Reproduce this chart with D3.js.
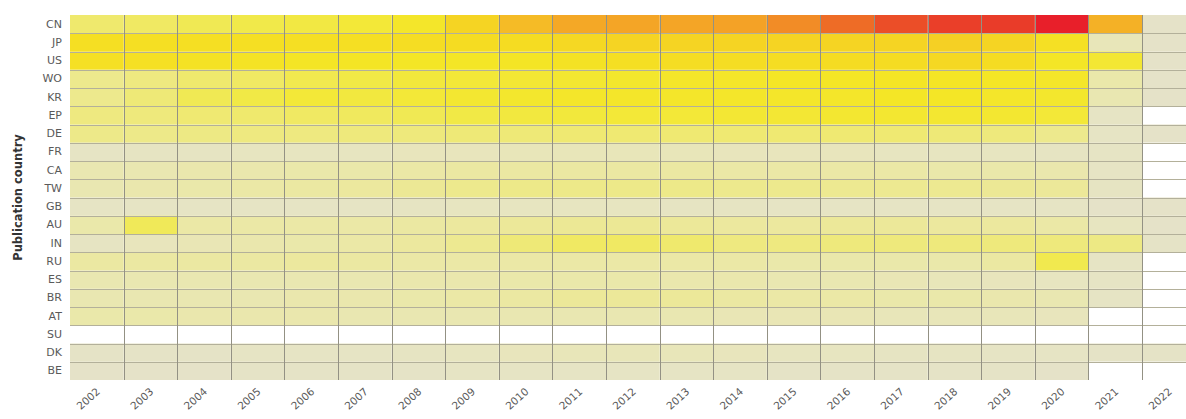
<!DOCTYPE html>
<html>
<head>
<meta charset="utf-8">
<script src="https://cdn.jsdelivr.net/npm/d3@7"></script>
<style>
  html, body { margin: 0; padding: 0; background: #fff; }
  svg { display: block; }
  text { font-family: "DejaVu Sans", Verdana, sans-serif; }
</style>
</head>
<body>
<svg id="chart" width="1186" height="419"></svg>
<script>
// ---- data (intensity index 0–100, null = no data) ----
const years = ["2002","2003","2004","2005","2006","2007","2008","2009","2010","2011","2012","2013","2014","2015","2016","2017","2018","2019","2020","2021","2022"];
const countries = ["CN","JP","US","WO","KR","EP","DE","FR","CA","TW","GB","AU","IN","RU","ES","BR","AT","SU","DK","BE"];

const CN = [28, 30, 33, 35, 37, 40, 44, 54, 60, 64, 65, 65, 66, 73, 80, 87, 91, 92, 100, 62, 4];
const JP = [50, 50, 50, 50, 50, 50, 51, 52, 52, 53, 54, 54, 54, 54, 54, 54, 55, 54, 49, 10, 4];
const US = [49, 49, 48, 47, 46, 46, 45, 45, 46, 48, 50, 51, 51, 51, 52, 52, 53, 52, 45, 41, 4];
const WO = [21, 24, 28, 30, 34, 36, 39, 40, 41, 42, 43, 44, 44, 45, 45, 46, 46, 45, 44, 14, 4];
const KR = [21, 26, 33, 36, 40, 38, 40, 42, 43, 44, 44, 44, 44, 44, 44, 45, 45, 44, 43, 12, 4];
const EP = [24, 25, 27, 28, 30, 31, 33, 36, 38, 39, 40, 40, 41, 41, 42, 42, 42, 42, 40, 6, null];
const DE = [22, 22, 23, 24, 24, 25, 25, 26, 26, 27, 27, 27, 27, 27, 27, 27, 26, 25, 21, 6, 4];
const FR = [6, 7, 7, 8, 8, 8, 9, 9, 10, 10, 10, 10, 9, 9, 9, 8, 8, 8, 7, 6, null];
const CA = [12, 12, 13, 13, 14, 14, 15, 16, 16, 16, 16, 16, 15, 15, 15, 15, 14, 14, 13, 6, null];
const TW = [12, 13, 14, 15, 16, 17, 19, 21, 22, 22, 22, 22, 21, 21, 20, 20, 20, 19, 18, 7, null];
const GB = [6, 6, 6, 6, 6, 6, 7, 8, 8, 8, 8, 7, 7, 6, 6, 6, 6, 6, 6, 4, 4];
const AU = [14, 32, 15, 15, 15, 15, 16, 17, 18, 19, 19, 18, 17, 17, 18, 18, 17, 17, 15, 8, 4];
const IN = [7, 9, 11, 13, 14, 15, 17, 20, 26, 30, 30, 28, 24, 24, 25, 25, 25, 25, 25, 23, 5];
const RU = [16, 16, 16, 16, 17, 16, 15, 15, 15, 15, 15, 15, 15, 14, 14, 14, 14, 16, 34, 6, null];
const ES = [12, 12, 12, 12, 12, 12, 13, 13, 14, 14, 14, 13, 13, 12, 12, 11, 10, 9, 8, 6, null];
const BR = [12, 12, 12, 12, 13, 13, 14, 15, 16, 18, 18, 18, 16, 15, 15, 14, 14, 13, 12, 6, null];
const AT = [14, 14, 13, 13, 13, 12, 12, 12, 12, 12, 12, 12, 11, 11, 11, 10, 10, 10, 9, null, null];
const SU = [null, null, null, null, null, null, null, null, null, null, null, null, null, null, null, null, null, null, null, null, null];
const DK = [5, 5, 5, 6, 6, 6, 7, 8, 9, 10, 10, 10, 9, 8, 8, 7, 7, 6, 6, 5, 5];
const BE = [4, 4, 4, 5, 5, 5, 5, 6, 6, 6, 6, 6, 6, 5, 5, 5, 5, 5, 4, null, null];

const rowValues = {CN, JP, US, WO, KR, EP, DE, FR, CA, TW, GB, AU, IN, RU, ES, BR, AT, SU, DK, BE};

// ---- colour ramp ----
const colorStops = [0, 8, 15, 25, 35, 45, 52, 58, 64, 72, 80, 88, 100];
const colorRange = ["#e2dfcf","#e7e5c0","#ebe8a6","#eee97c","#f1e94a","#f4e626","#f5dc22","#f5c426","#f4a826","#f29026","#ee6c26","#ea4a28","#e81f2a"];

// ---- layout ----
const svg = d3.select("#chart");
const margin = {left: 70, top: 15};
const plotW = 53.6 * years.length;
const plotH = 365;

const x = d3.scaleBand().domain(years).range([margin.left, margin.left + plotW]).padding(0);
const y = d3.scaleBand().domain(countries).range([margin.top, margin.top + plotH]).padding(0);
const color = d3.scaleLinear().domain(colorStops).range(colorRange).clamp(true);

const cells = [];
countries.forEach(c => years.forEach((yr, i) => cells.push({c, yr, v: rowValues[c][i]})));

svg.append("g").selectAll("rect").data(cells).join("rect")
  .attr("x", d => x(d.yr))
  .attr("y", d => y(d.c))
  .attr("width", x.bandwidth())
  .attr("height", y.bandwidth())
  .attr("fill", d => d.v == null ? "#ffffff" : color(d.v));

// grid lines
const grid = svg.append("g");
grid.selectAll("line.h").data(countries.slice(1)).join("line")
  .attr("class", "h")
  .attr("x1", margin.left).attr("x2", margin.left + plotW)
  .attr("y1", d => Math.round(y(d)) + 0.5).attr("y2", d => Math.round(y(d)) + 0.5)
  .attr("stroke", "#b3b09a").attr("stroke-width", 1);
grid.selectAll("line.v").data(years.slice(1)).join("line")
  .attr("class", "v")
  .attr("y1", margin.top).attr("y2", margin.top + plotH)
  .attr("x1", d => Math.round(x(d)) + 0.5).attr("x2", d => Math.round(x(d)) + 0.5)
  .attr("stroke", "#939184").attr("stroke-width", 1);

// y axis labels
const yAxis = d3.axisLeft(y).tickSize(0).tickPadding(8);
const gy = svg.append("g").attr("transform", `translate(${margin.left},0)`).call(yAxis);
gy.select(".domain").remove();
gy.selectAll("text").attr("fill", "#5a5a5a").style("font-size", "11px")
  .style("font-family", "'DejaVu Sans', Verdana, sans-serif");

// x axis labels (rotated)
const xAxis = d3.axisBottom(x).tickSize(0).tickPadding(0);
const gx = svg.append("g").attr("transform", `translate(0,${margin.top + plotH})`).call(xAxis);
gx.select(".domain").remove();
gx.selectAll("text")
  .attr("fill", "#5a5a5a").style("font-size", "10.5px")
  .style("font-family", "'DejaVu Sans', Verdana, sans-serif")
  .attr("text-anchor", "end")
  .attr("x", 0).attr("y", 0)
  .attr("dy", "0.7em")
  .attr("transform", "translate(-1,7) rotate(-42)");

// axis title
svg.append("text")
  .attr("transform", `translate(22,${margin.top + plotH / 2}) rotate(-90)`)
  .attr("text-anchor", "middle")
  .attr("fill", "#333")
  .style("font-size", "11.5px")
  .style("font-weight", "bold")
  .text("Publication country");
</script>
</body>
</html>
